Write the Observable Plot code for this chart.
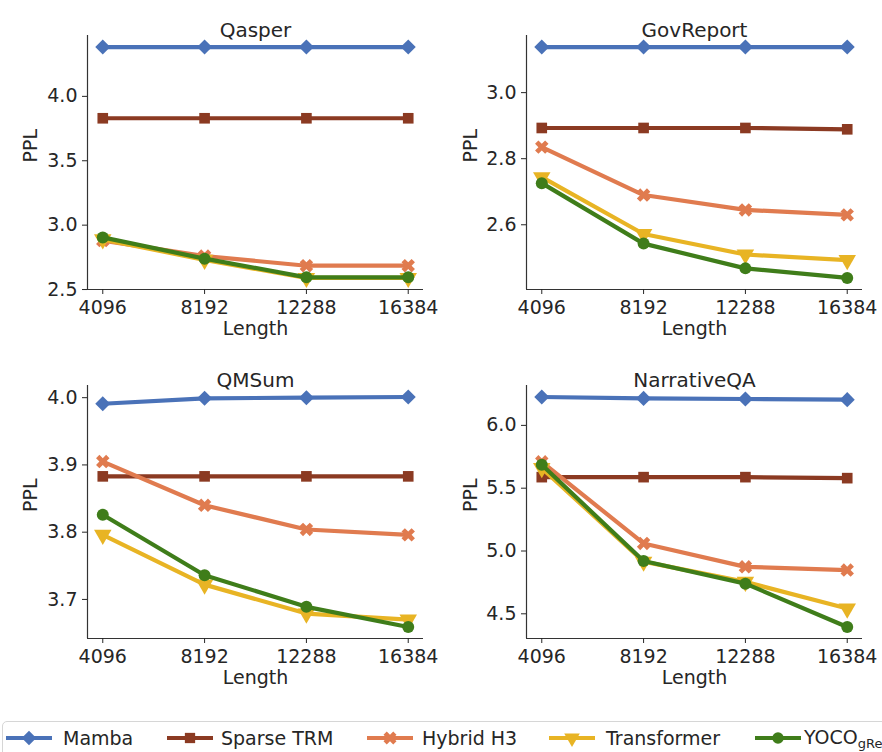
<!DOCTYPE html>
<html>
<head>
<meta charset="utf-8">
<script src="https://cdn.jsdelivr.net/npm/d3@7"></script>
<script src="https://cdn.jsdelivr.net/npm/@observablehq/plot@0.6"></script>
<style>
  html, body { margin: 0; padding: 0; background: #fff; overflow: hidden; }
  #root { position: relative; width: 882px; height: 752px; overflow: hidden; font-family: "DejaVu Sans", sans-serif; }
  .panel { position: absolute; }
  #legend { position: absolute; left: 2px; top: 721px; width: 920px; height: 42px; border: 1px solid #d6d6d6; border-radius: 5px; box-sizing: border-box; }
  .li { position: absolute; top: 0; height: 32px; display: flex; align-items: center; font-size: 19px; color: #262626; white-space: nowrap; }
  .li sub { font-size: 13px; vertical-align: -4px; }
</style>
</head>
<body>
<div id="root"></div>
<script>
// ---------- data ----------
const lengths = [4096, 8192, 12288, 16384];
const seriesNames = ["Mamba", "Sparse TRM", "Hybrid H3", "Transformer", "YOCO"];
const seriesColors = ["#4a72b8", "#8b3a22", "#e07b4f", "#e8b424", "#3f7d1a"];
const seriesSymbols = ["square", "square", "cross", "triangle", "circle"];
const seriesRotate = [45, 0, 45, 180, 0];

const datasets = ["Qasper", "GovReport", "QMSum", "NarrativeQA"];

// rows follow seriesNames order, columns follow lengths
const qasper = [
  [4.383, 4.383, 4.383, 4.383],
  [3.830, 3.830, 3.830, 3.830],
  [2.880, 2.760, 2.685, 2.685],
  [2.890, 2.730, 2.590, 2.590],
  [2.905, 2.740, 2.595, 2.595]
];
const govReport = [
  [3.138, 3.138, 3.138, 3.138],
  [2.893, 2.893, 2.893, 2.889],
  [2.835, 2.690, 2.645, 2.630],
  [2.744, 2.572, 2.510, 2.493],
  [2.726, 2.543, 2.468, 2.439]
];
const qmsum = [
  [3.991, 3.999, 4.000, 4.001],
  [3.883, 3.883, 3.883, 3.883],
  [3.905, 3.840, 3.804, 3.796],
  [3.796, 3.722, 3.679, 3.670],
  [3.826, 3.736, 3.689, 3.659]
];
const narrativeQA = [
  [6.226, 6.215, 6.210, 6.205],
  [5.588, 5.588, 5.588, 5.580],
  [5.710, 5.060, 4.874, 4.848],
  [5.660, 4.915, 4.754, 4.542],
  [5.686, 4.920, 4.740, 4.395]
];
const yTicks = [
  [2.5, 3.0, 3.5, 4.0],
  [2.6, 2.8, 3.0],
  [3.7, 3.8, 3.9, 4.0],
  [4.5, 5.0, 5.5, 6.0]
];
const values = [qasper, govReport, qmsum, narrativeQA];

// ---------- layout ----------
const panelPos = [
  {left: 0, top: 0, height: 350, mt: 35, mb: 61, ml: 87, mr: 18},
  {left: 441, top: 0, height: 350, mt: 35, mb: 61, ml: 85, mr: 20},
  {left: 0, top: 350, height: 360, mt: 35, mb: 72, ml: 87, mr: 18},
  {left: 441, top: 350, height: 360, mt: 35, mb: 72, ml: 85, mr: 20}
];

const root = document.getElementById("root");
const xPad = 0.05 * (lengths[3] - lengths[0]);
const xDomain = [lengths[0] - xPad, lengths[3] + xPad];

datasets.forEach((name, i) => {
  const rows = [];
  values[i].forEach((vals, s) => vals.forEach((v, k) => rows.push({series: seriesNames[s], s, len: lengths[k], v})));
  const [lo, hi] = d3.extent(rows, d => d.v);
  const pad = 0.05 * (hi - lo);
  const yDomain = [lo - pad, hi + pad];
  const p = panelPos[i];

  const marks = [
    Plot.ruleX([xDomain[0]], {stroke: "#333", strokeWidth: 1.2}),
    Plot.ruleY([yDomain[0]], {stroke: "#333", strokeWidth: 1.2}),
    Plot.axisX({ticks: lengths, tickFormat: d => String(d), tickSize: 5, tickPadding: 6, label: null}),
    Plot.axisY({ticks: yTicks[i], tickFormat: d3.format(".1f"), tickSize: 5, tickPadding: 5, label: null}),
    Plot.text([name], {frameAnchor: "top", dy: -13, fontSize: 20, fill: "#262626"}),
    Plot.text(["Length"], {frameAnchor: "bottom", dy: 45, fontSize: 19, fill: "#262626"}),
    Plot.text(["PPL"], {frameAnchor: "left", dx: p.ml === 87 ? -57 : -56, rotate: -90, fontSize: 19, fill: "#262626"})
  ];
  seriesNames.forEach((sn, s) => {
    const d = rows.filter(r => r.s === s);
    marks.push(Plot.line(d, {x: "len", y: "v", stroke: seriesColors[s], strokeWidth: 4.2, strokeLinejoin: "round"}));
    marks.push(Plot.dot(d, {x: "len", y: "v", symbol: seriesSymbols[s], rotate: seriesRotate[s], r: s === 3 ? 6.5 : 6, fill: seriesColors[s], stroke: "none"}));
  });

  const chart = Plot.plot({
    width: 441,
    height: p.height,
    marginTop: p.mt,
    marginBottom: p.mb,
    marginLeft: p.ml,
    marginRight: p.mr,
    style: {fontFamily: "DejaVu Sans, sans-serif", fontSize: "19px", color: "#262626", background: "transparent", overflow: "visible"},
    x: {domain: xDomain},
    y: {domain: yDomain},
    marks
  });
  const wrap = document.createElement("div");
  wrap.className = "panel";
  wrap.style.left = p.left + "px";
  wrap.style.top = p.top + "px";
  wrap.appendChild(chart);
  root.appendChild(wrap);
});

// ---------- legend ----------
const legend = document.createElement("div");
legend.id = "legend";
root.appendChild(legend);
const sampleX = [3, 164, 364, 546, 752];
const textX = [60, 218, 419, 603, 801];
const ns = "http://www.w3.org/2000/svg";
seriesNames.forEach((sn, s) => {
  const item = document.createElement("div");
  item.className = "li";
  item.style.left = sampleX[s] + "px";
  const svg = document.createElementNS(ns, "svg");
  svg.setAttribute("width", 46);
  svg.setAttribute("height", 20);
  svg.style.marginRight = (textX[s] - sampleX[s] - 46) + "px";
  const line = document.createElementNS(ns, "line");
  line.setAttribute("x1", 0); line.setAttribute("x2", 46);
  line.setAttribute("y1", 10); line.setAttribute("y2", 10);
  line.setAttribute("stroke", seriesColors[s]); line.setAttribute("stroke-width", 4.2);
  svg.appendChild(line);
  const sym = {square: d3.symbolSquare, cross: d3.symbolCross, triangle: d3.symbolTriangle, circle: d3.symbolCircle}[seriesSymbols[s]];
  const path = document.createElementNS(ns, "path");
  path.setAttribute("d", d3.symbol(sym, Math.PI * 5.8 * 5.8)());
  path.setAttribute("transform", `translate(23,10) rotate(${seriesRotate[s]})`);
  path.setAttribute("fill", seriesColors[s]);
  svg.appendChild(path);
  item.appendChild(svg);
  const label = document.createElement("span");
  if (sn === "YOCO") {
    label.innerHTML = "YOCO<sub>gRet</sub>";
  } else {
    label.textContent = sn;
  }
  item.appendChild(label);
  legend.appendChild(item);
});
</script>
</body>
</html>
